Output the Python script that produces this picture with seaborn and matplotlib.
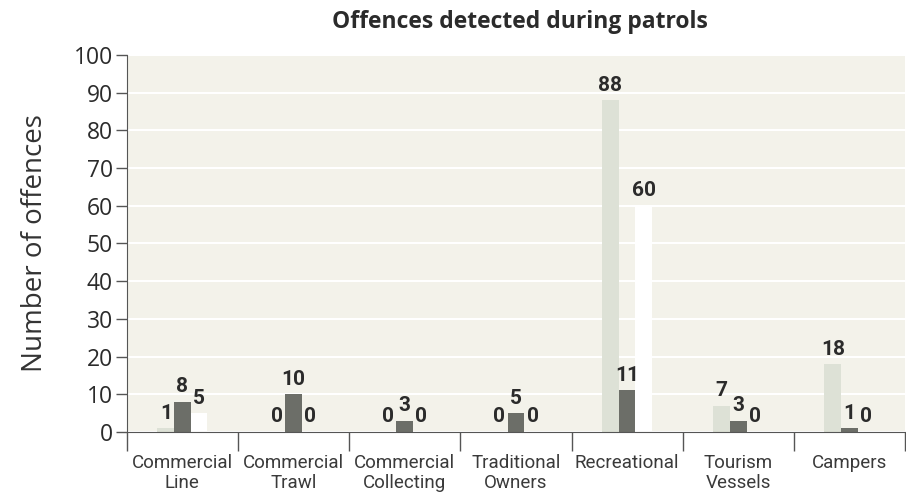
import numpy as np
import pandas as pd
import matplotlib.pyplot as plt
import seaborn as sns

categories = ["Commercial\nLine", "Commercial\nTrawl", "Commercial\nCollecting",
              "Traditional\nOwners", "Recreational", "Tourism\nVessels", "Campers"]
series_names = ["Series 1", "Series 2", "Series 3"]
light_vals = [1, 0, 0, 0, 88, 7, 18]
dark_vals = [8, 10, 3, 5, 11, 3, 1]
white_vals = [5, 0, 0, 0, 60, 0, 0]
y_ticks = list(range(0, 101, 10))

df = pd.DataFrame({
    "category": categories * 3,
    "series": np.repeat(series_names, len(categories)),
    "offences": light_vals + dark_vals + white_vals,
})

sns.set_style("white")
plt.rcParams["font.family"] = ["Open Sans", "DejaVu Sans"]
narrow = ["Liberation Sans Narrow", "Roboto", "DejaVu Sans"]

fig = plt.figure(figsize=(9.06, 5.04), dpi=100)
ax = fig.add_axes([0.140, 0.143, 0.859, 0.748])
ax.set_facecolor("#f3f2ea")

palette = {"Series 1": "#dde1d6", "Series 2": "#6c6e68", "Series 3": "#ffffff"}
sns.barplot(data=df, x="category", y="offences", hue="series", palette=palette,
            width=0.45, gap=0, linewidth=0, saturation=1, legend=False, ax=ax)

for cont in ax.containers:
    ax.bar_label(cont, fmt="%d", padding=4, fontsize=15, fontweight="bold",
                 family=narrow, color="#2b2b2b")

ax.set_ylim(0, 100)
ax.set_xlim(-0.5, len(categories) - 0.5)
ax.set_yticks(y_ticks)
ax.yaxis.grid(True, color="white", linewidth=1.5)
ax.set_axisbelow(True)

ax.tick_params(axis="y", direction="out", length=8, width=1, color="#555555",
               labelsize=16.5, labelcolor="#2b2b2b", left=True, pad=2)
ax.set_xticks(np.arange(-0.5, len(categories), 1), minor=True)
ax.tick_params(axis="x", which="minor", direction="out", length=14, width=1,
               color="#555555", bottom=True)
ax.tick_params(axis="x", which="major", length=0, pad=16)
for lab in ax.get_xticklabels():
    lab.set_family(narrow)
    lab.set_fontsize(13.5)
    lab.set_color("#3a3a3a")
    lab.set_linespacing(1.1)

for s in ["top", "right"]:
    ax.spines[s].set_visible(False)
ax.spines["left"].set_color("#555555")
ax.spines["bottom"].set_color("#555555")

ax.set_xlabel("")
ax.set_ylabel("Number of offences", fontsize=20, color="#333333", labelpad=18)
fig.text(0.574, 0.957, "Offences detected during patrols", ha="center",
         va="center", fontsize=16.5, fontweight="bold", color="#2b2b2b")

fig.savefig("out.png", dpi=100)
